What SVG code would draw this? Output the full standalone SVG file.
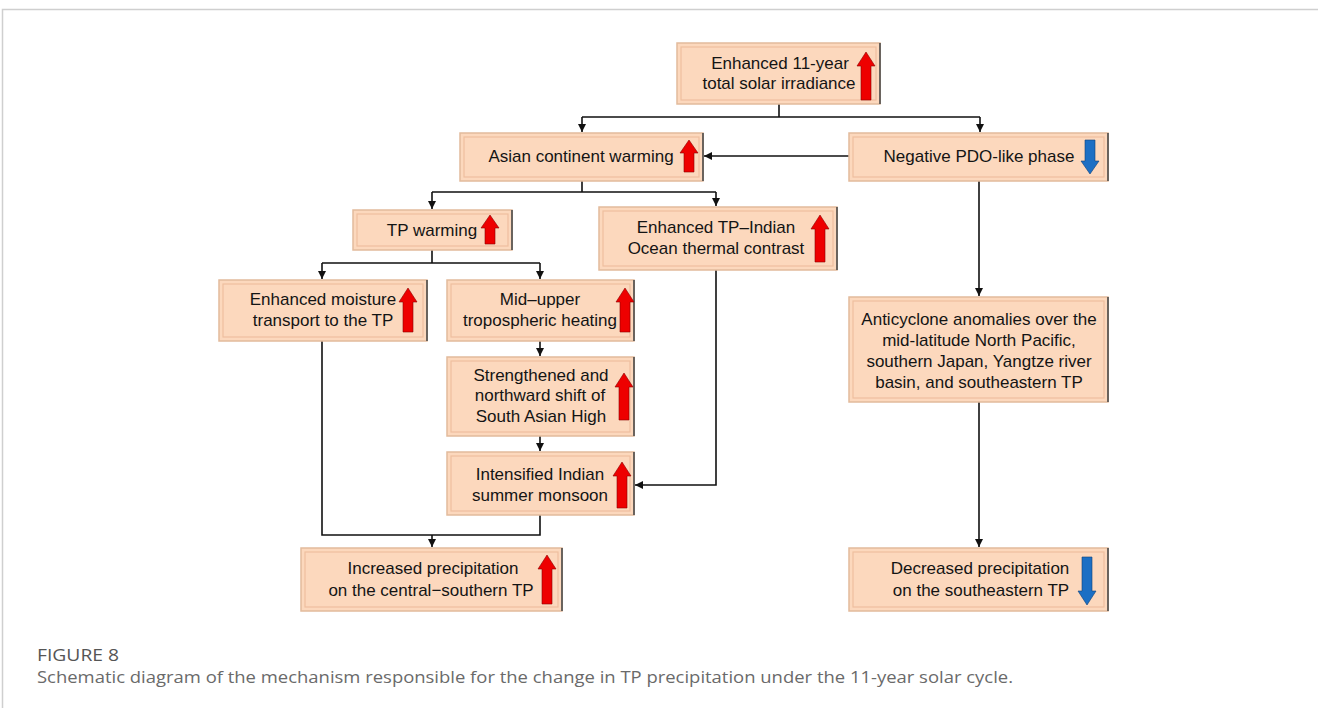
<svg xmlns="http://www.w3.org/2000/svg" width="1318" height="708" viewBox="0 0 1318 708">
<style>
.box{fill:#fcd8bd;stroke:#e2bb9c;stroke-width:1.5}
.inner{fill:none;stroke:#eebf9e;stroke-width:1.2}
.edge{stroke:#4a4a4a;stroke-width:1.6}
.t{font-family:"Liberation Sans",Arial,sans-serif;font-size:17px;fill:#141414;text-anchor:middle}
.up{fill:#ee0000;stroke:#8a0000;stroke-width:0.6}
.dn{fill:#1c6fc4;stroke:#0d3f78;stroke-width:0.6}
.ln{fill:none;stroke:#111;stroke-width:1.6}
.cap1{font-family:"Open Sans","Liberation Sans",sans-serif;font-size:16px;fill:#555}
.cap2{font-family:"Open Sans","Liberation Sans",sans-serif;font-size:16px;fill:#6a6a6a}
</style>
<defs>
<marker id="ah" viewBox="0 0 10 10" refX="10" refY="5" markerWidth="8" markerHeight="8" markerUnits="userSpaceOnUse" orient="auto">
<path d="M0,0 L10,5 L0,10 Z" fill="#111"/>
</marker>
</defs>
<rect x="0" y="0" width="1318" height="708" fill="#fff"/>
<path d="M2.5,708 V9.5 H1318" fill="none" stroke="#cfcfcf" stroke-width="1.5"/>

<g id="connectors">
<path class="ln" d="M779,104 V117 M582,117 H980"/>
<path class="ln" d="M582,117 V132" marker-end="url(#ah)"/>
<path class="ln" d="M980,117 V132" marker-end="url(#ah)"/>
<path class="ln" d="M849,156 H704" marker-end="url(#ah)"/>
<path class="ln" d="M582,181 V192 M432,192 H716"/>
<path class="ln" d="M432,192 V209" marker-end="url(#ah)"/>
<path class="ln" d="M716,192 V206" marker-end="url(#ah)"/>
<path class="ln" d="M432,250 V263 M322,263 H540"/>
<path class="ln" d="M322,263 V279" marker-end="url(#ah)"/>
<path class="ln" d="M540,263 V279" marker-end="url(#ah)"/>
<path class="ln" d="M540,341 V356" marker-end="url(#ah)"/>
<path class="ln" d="M540,436 V451" marker-end="url(#ah)"/>
<path class="ln" d="M716,270 V485 H635" marker-end="url(#ah)"/>
<path class="ln" d="M322,341 V535 H540 V515"/>
<path class="ln" d="M432,535 V547" marker-end="url(#ah)"/>
<path class="ln" d="M979,181 V296" marker-end="url(#ah)"/>
<path class="ln" d="M979,402 V547" marker-end="url(#ah)"/>
</g>

<g id="solar">
<rect class="box" x="677" y="43" width="203" height="61"/>
<rect class="inner" x="681" y="47" width="195" height="53"/>
<line class="edge" x1="880" y1="43" x2="880" y2="104"/>
<text class="t" x="780" y="69">Enhanced 11-year</text>
<text class="t" x="779" y="89">total solar irradiance</text>
<path class="up" d="M866,52 L875,66 L871,66 L871,100 L861,100 L861,66 L857,66 Z"/>
</g>

<g id="asian">
<rect class="box" x="460" y="133" width="243" height="48"/>
<rect class="inner" x="464" y="137" width="235" height="40"/>
<line class="edge" x1="703" y1="133" x2="703" y2="181"/>
<text class="t" x="581" y="162">Asian continent warming</text>
<path class="up" d="M689,140 L698,153 L694,153 L694,172 L684,172 L684,153 L680,153 Z"/>
</g>

<g id="pdo">
<rect class="box" x="849" y="133" width="259" height="48"/>
<rect class="inner" x="853" y="137" width="251" height="40"/>
<line class="edge" x1="1108" y1="133" x2="1108" y2="181"/>
<text class="t" x="979" y="162">Negative PDO-like phase</text>
<path class="dn" d="M1090,174 L1099,161 L1095,161 L1095,140 L1085,140 L1085,161 L1081,161 Z"/>
</g>

<g id="tpwarming">
<rect class="box" x="353" y="210" width="159" height="40"/>
<rect class="inner" x="357" y="214" width="151" height="32"/>
<line class="edge" x1="512" y1="210" x2="512" y2="250"/>
<text class="t" x="432" y="236">TP warming</text>
<path class="up" d="M490,215 L499,228 L495,228 L495,244 L485,244 L485,228 L481,228 Z"/>
</g>

<g id="contrast">
<rect class="box" x="599" y="207" width="238" height="63"/>
<rect class="inner" x="603" y="211" width="230" height="55"/>
<line class="edge" x1="837" y1="207" x2="837" y2="270"/>
<text class="t" x="716" y="233">Enhanced TP–Indian</text>
<text class="t" x="716" y="254">Ocean thermal contrast</text>
<path class="up" d="M820,215 L829,229 L825,229 L825,262 L815,262 L815,229 L811,229 Z"/>
</g>

<g id="moisture">
<rect class="box" x="219" y="280" width="208" height="61"/>
<rect class="inner" x="223" y="284" width="200" height="53"/>
<line class="edge" x1="427" y1="280" x2="427" y2="341"/>
<text class="t" x="323" y="305">Enhanced moisture</text>
<text class="t" x="323" y="326">transport to the TP</text>
<path class="up" d="M408,288 L417,302 L413,302 L413,332 L403,332 L403,302 L399,302 Z"/>
</g>

<g id="heating">
<rect class="box" x="447" y="280" width="187" height="61"/>
<rect class="inner" x="451" y="284" width="179" height="53"/>
<line class="edge" x1="634" y1="280" x2="634" y2="341"/>
<text class="t" x="540" y="305">Mid–upper</text>
<text class="t" x="540" y="326">tropospheric heating</text>
<path class="up" d="M625,288 L634,302 L630,302 L630,332 L620,332 L620,302 L616,302 Z"/>
</g>

<g id="sah">
<rect class="box" x="447" y="357" width="187" height="79"/>
<rect class="inner" x="451" y="361" width="179" height="71"/>
<line class="edge" x1="634" y1="357" x2="634" y2="436"/>
<text class="t" x="541" y="381">Strengthened and</text>
<text class="t" x="540" y="401">northward shift of</text>
<text class="t" x="541" y="422">South Asian High</text>
<path class="up" d="M624,373 L633,387 L629,387 L629,420 L619,420 L619,387 L615,387 Z"/>
</g>

<g id="monsoon">
<rect class="box" x="447" y="452" width="187" height="63"/>
<rect class="inner" x="451" y="456" width="179" height="55"/>
<line class="edge" x1="634" y1="452" x2="634" y2="515"/>
<text class="t" x="540" y="480">Intensified Indian</text>
<text class="t" x="540" y="501">summer monsoon</text>
<path class="up" d="M622,462 L631,476 L627,476 L627,508 L617,508 L617,476 L613,476 Z"/>
</g>

<g id="increased">
<rect class="box" x="301" y="548" width="261" height="63"/>
<rect class="inner" x="305" y="552" width="253" height="55"/>
<line class="edge" x1="562" y1="548" x2="562" y2="611"/>
<text class="t" x="433" y="574">Increased precipitation</text>
<text class="t" x="431" y="596">on the central−southern TP</text>
<path class="up" d="M547,555 L556,569 L552,569 L552,604 L542,604 L542,569 L538,569 Z"/>
</g>

<g id="anticyclone">
<rect class="box" x="849" y="297" width="259" height="105"/>
<rect class="inner" x="853" y="301" width="251" height="97"/>
<line class="edge" x1="1108" y1="297" x2="1108" y2="402"/>
<text class="t" x="979" y="325">Anticyclone anomalies over the</text>
<text class="t" x="979" y="346">mid-latitude North Pacific,</text>
<text class="t" x="979" y="367">southern Japan, Yangtze river</text>
<text class="t" x="979" y="388">basin, and southeastern TP</text>
</g>

<g id="decreased">
<rect class="box" x="849" y="548" width="259" height="63"/>
<rect class="inner" x="853" y="552" width="251" height="55"/>
<line class="edge" x1="1108" y1="548" x2="1108" y2="611"/>
<text class="t" x="980" y="574">Decreased precipitation</text>
<text class="t" x="981" y="596">on the southeastern TP</text>
<path class="dn" d="M1087,605 L1096,591 L1092,591 L1092,557 L1082,557 L1082,591 L1078,591 Z"/>
</g>

<g id="caption">
<text class="cap1" x="37" y="661" textLength="82" lengthAdjust="spacingAndGlyphs">FIGURE 8</text>
<text class="cap2" x="37" y="683" textLength="976" lengthAdjust="spacingAndGlyphs">Schematic diagram of the mechanism responsible for the change in TP precipitation under the 11-year solar cycle.</text>
</g>
</svg>
